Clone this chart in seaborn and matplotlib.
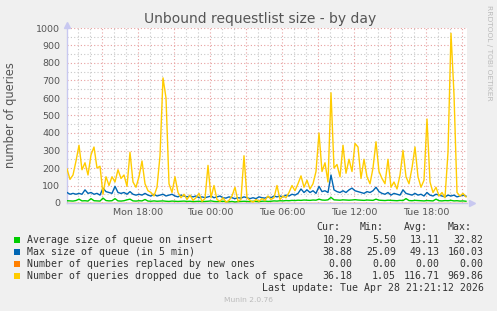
import numpy as np
import pandas as pd
import matplotlib
matplotlib.use("Agg")
import matplotlib.pyplot as plt
import seaborn as sns
from matplotlib.patches import Rectangle

# ---------------- data ----------------
start_hour = 12 + 5 / 60      # Mon 12:05
step_hours = 0.25             # one sample per 15 min

avg_queue = [
    13, 12, 11, 14, 22, 12, 13, 11, 25, 13,
    12, 11, 28, 14, 12, 13, 25, 12, 11, 13,
    18, 22, 12, 11, 13, 12, 20, 11, 10, 12,
    10, 11, 12, 10, 9, 11, 10, 9, 10, 11,
    9, 10, 8, 9, 10, 8, 9, 10, 12, 9,
    8, 9, 10, 8, 7, 9, 6, 8, 9, 10,
    9, 8, 10, 9, 8, 10, 11, 9, 10, 12,
    11, 13, 12, 14, 13, 15, 14, 16, 15, 17,
    16, 15, 17, 16, 22, 17, 16, 18, 32, 18,
    17, 16, 18, 17, 16, 17, 19, 17, 16, 15,
    17, 16, 15, 22, 16, 15, 14, 16, 15, 14,
    13, 15, 14, 25, 14, 13, 15, 14, 13, 12,
    14, 13, 12, 22, 13, 12, 14, 13, 15, 12,
    13, 11, 12, 10,
]

max_queue = [
    60, 50, 55, 50, 55, 50, 75, 55, 60, 50,
    55, 45, 85, 65, 60, 55, 95, 60, 55, 60,
    50, 65, 50, 45, 50, 45, 55, 45, 40, 50,
    40, 45, 50, 40, 45, 50, 40, 35, 45, 40,
    35, 40, 35, 40, 30, 35, 30, 35, 40, 30,
    35, 40, 30, 28, 35, 30, 25, 30, 28, 35,
    30, 25, 30, 25, 35, 30, 28, 35, 30, 40,
    35, 40, 35, 45, 40, 50, 45, 55, 80, 60,
    75, 60, 70, 55, 95, 65, 70, 60, 160, 75,
    65, 60, 70, 60, 75, 85, 70, 65, 60, 55,
    65, 60, 70, 90, 65, 55, 50, 60, 45, 55,
    50, 45, 75, 55, 50, 45, 55, 45, 50, 40,
    60, 45, 40, 50, 45, 40, 35, 45, 40, 45,
    35, 40, 45, 39,
]

dropped = [
    195, 135, 160, 240, 330, 190, 230, 160, 275, 320,
    200, 210, 50, 150, 100, 150, 120, 190, 140, 160,
    95, 290, 120, 90, 150, 240, 110, 70, 60, 40,
    90, 270, 715, 600, 110, 60, 150, 60, 30, 50,
    20, 45, 15, 30, 55, 10, 25, 215, 30, 100,
    20, 10, 30, 5, 15, 40, 90, 10, 20, 270,
    30, 15, 5, 20, 10, 25, 15, 40, 20, 30,
    100, 20, 40, 30, 60, 100, 70, 110, 155, 90,
    130, 80, 110, 180, 400, 180, 230, 120, 630, 200,
    220, 150, 330, 170, 250, 180, 340, 320, 140, 250,
    150, 110, 200, 350, 180, 140, 110, 250, 90, 120,
    80, 160, 300, 150, 110, 200, 320, 150, 90, 130,
    480, 120, 60, 90, 40, 60, 30, 290, 970, 620,
    60, 40, 55, 35,
]

replaced = [0.0] * len(dropped)

series_names = [
    "Average size of queue on insert",
    "Max size of queue (in 5 min)",
    "Number of queries replaced by new ones",
    "Number of queries dropped due to lack of space",
]
series_colors = ["#00CC00", "#0066B3", "#FF8000", "#FFCC00"]
cur_vals = ["10.29", "38.88", "0.00", "36.18"]
min_vals = ["5.50", "25.09", "0.00", "1.05"]
avg_vals = ["13.11", "49.13", "0.00", "116.71"]
max_vals = ["32.82", "160.03", "0.00", "969.86"]

x_tick_hours = [18, 24, 30, 36, 42]
x_tick_labels = ["Mon 18:00", "Tue 00:00", "Tue 06:00", "Tue 12:00", "Tue 18:00"]
y_ticks = [0, 100, 200, 300, 400, 500, 600, 700, 800, 900, 1000]

title = "Unbound requestlist size - by day"
y_label = "number of queries"
last_update = "Last update: Tue Apr 28 21:21:12 2026"
footer = "Munin 2.0.76"
side_text = "RRDTOOL / TOBI OETIKER"

# ---------------- figure ----------------
W, H = 497, 311
fig = plt.figure(figsize=(W / 100, H / 100), dpi=100, facecolor="#F0F0F0")
L, R, T, B = 67, 467, 28, 203
ax = fig.add_axes([L / W, 1 - B / H, (R - L) / W, (B - T) / H])
ax.set_facecolor("white")

hours = start_hour + step_hours * np.arange(len(dropped))
df = pd.DataFrame({
    "hour": hours,
    series_names[0]: avg_queue,
    series_names[1]: max_queue,
    series_names[2]: replaced,
    series_names[3]: dropped,
})

for name, col in zip(series_names, series_colors):
    sns.lineplot(data=df, x="hour", y=name, color=col, lw=1.0, ax=ax,
                 legend=False, zorder=3)

x_left = start_hour
x_right = start_hour + (R - L) / 12.0
ax.set_xlim(x_left, x_right)
ax.set_ylim(0, 1000)

# grid
major_x = np.arange(15, 46, 3)
minor_x = [h for h in range(13, 46) if h % 3 != 0]
ax.set_xticks(major_x)
ax.set_xticklabels([x_tick_labels[x_tick_hours.index(h)] if h in x_tick_hours else ""
                    for h in major_x])
ax.set_xticks(minor_x, minor=True)
ax.set_yticks(y_ticks)
ax.set_yticklabels([str(v) for v in y_ticks])
ax.set_yticks(np.arange(50, 1000, 100), minor=True)

ax.grid(which="major", color="#E8A0A0", linestyle=(0, (1, 2)), linewidth=0.8, zorder=1)
ax.grid(which="minor", color="#C8C8C8", linestyle=(0, (1, 2)), linewidth=0.8, zorder=1)
ax.set_axisbelow(True)

ax.tick_params(axis="both", which="both", length=0, labelsize=6.8, colors="#555555")
ax.tick_params(axis="x", pad=3.5)
ax.tick_params(axis="y", pad=4.8)
ax.set_xlabel("")
ax.set_ylabel("")

for s in ["top", "right"]:
    ax.spines[s].set_visible(False)
ax.spines["left"].set_color("#C8C8F0")
ax.spines["bottom"].set_color("#C8C8F0")
ax.spines["left"].set_linewidth(1.0)
ax.spines["bottom"].set_linewidth(1.0)

# axis arrows
ax.plot([0], [1.02], marker="^", markersize=4, color="#C8C8F0",
        transform=ax.transAxes, clip_on=False)
ax.plot([1.012], [0], marker=">", markersize=4, color="#C8C8F0",
        transform=ax.transAxes, clip_on=False)

# texts
fig.text(260 / W, 1 - 18.5 / H, title, ha="center", va="center",
         fontsize=10, color="#555555", family="DejaVu Sans")
fig.text(11 / W, 1 - 115.5 / H, y_label, ha="center", va="center",
         rotation=90, fontsize=8.3, color="#555555", family="DejaVu Sans")
fig.text(489.5 / W, 1 - 53 / H, side_text, ha="center", va="center",
         rotation=270, fontsize=5.4, color="#BBBBBB", family="DejaVu Sans")
fig.text(248.5 / W, 1 - 300 / H, footer, ha="center", va="center",
         fontsize=5.4, color="#BBBBBB", family="DejaVu Sans")

mono = dict(family="DejaVu Sans Mono", fontsize=7.15, color="#333333", va="center")
hdr_y = 227
for lbl, xl in zip(["Cur:", "Min:", "Avg:", "Max:"], [316.5, 360, 404, 447.5]):
    fig.text(xl / W, 1 - hdr_y / H, lbl, ha="left", **mono)

row_y = [239.7, 251.7, 263.6, 275.6]
for i, name in enumerate(series_names):
    y = row_y[i]
    fig.patches.append(Rectangle((14 / W, 1 - (y + 3) / H), 6 / W, 6 / H,
                                 transform=fig.transFigure, facecolor=series_colors[i],
                                 edgecolor="none"))
    fig.text(26.7 / W, 1 - y / H, name, ha="left", **mono)
    for vals, xr in zip([cur_vals, min_vals, avg_vals, max_vals], [352.5, 396, 439.5, 483.5]):
        fig.text(xr / W, 1 - y / H, vals[i], ha="right", **mono)

fig.text(483.5 / W, 1 - 287.7 / H, last_update, ha="right", **mono)

fig.savefig("out.png", dpi=100, facecolor=fig.get_facecolor())
